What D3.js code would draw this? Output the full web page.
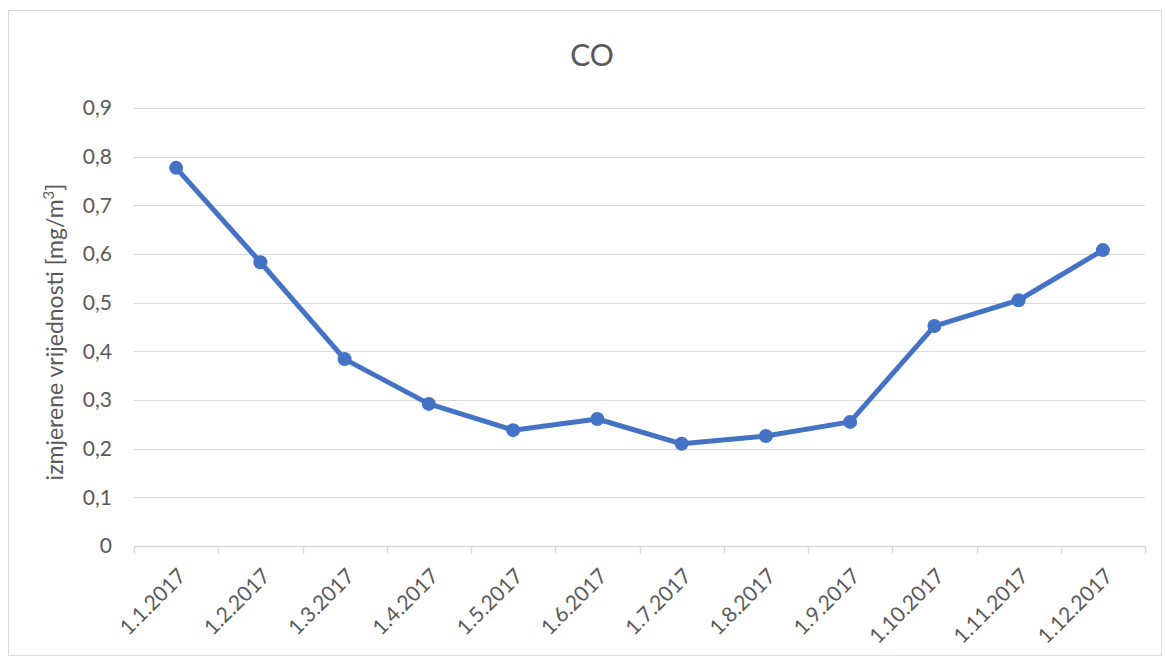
<!DOCTYPE html>
<html>
<head>
<meta charset="utf-8">
<script src="https://cdn.jsdelivr.net/npm/d3@7"></script>
<style>
  body { margin: 0; background: #fff; }
  svg text { font-family: Lato, "Open Sans", sans-serif; fill: #595959; }
</style>
</head>
<body>
<svg id="chart" width="1165" height="661"></svg>
<script>
// months of 2017, measured CO values
var months = ['1.1.2017', '1.2.2017', '1.3.2017', '1.4.2017', '1.5.2017', '1.6.2017',
  '1.7.2017', '1.8.2017', '1.9.2017', '1.10.2017', '1.11.2017', '1.12.2017'];
var coValues = [0.777, 0.583, 0.384, 0.292, 0.238, 0.261, 0.21, 0.226, 0.255, 0.452, 0.505, 0.608];
var yTicks = [0, 0.1, 0.2, 0.3, 0.4, 0.5, 0.6, 0.7, 0.8, 0.9];

var W = 1165, H = 661;
var m = { left: 134, right: 20, top: 108, bottom: 115 };
var svg = d3.select('#chart');

// outer chart border
svg.append('rect')
  .attr('x', 8.5).attr('y', 10.5)
  .attr('width', W - 12).attr('height', H - 16)
  .style('fill', 'none').style('stroke', '#d9d9d9');

var x = d3.scaleBand()
  .domain(months)
  .range([m.left, W - m.right]);
var y = d3.scaleLinear()
  .domain([0, 0.9])
  .range([H - m.bottom, m.top]);

// grid lines
svg.append('g').selectAll('line')
  .data(yTicks.slice(1))
  .enter().append('line')
  .attr('x1', m.left).attr('x2', W - m.right)
  .attr('y1', function(d) { return Math.round(y(d)) + 0.5; })
  .attr('y2', function(d) { return Math.round(y(d)) + 0.5; })
  .style('stroke', '#d9d9d9').style('stroke-width', 1);

// y tick labels
svg.append('g').selectAll('text')
  .data(yTicks)
  .enter().append('text')
  .attr('x', m.left - 22)
  .attr('y', function(d) { return y(d); })
  .attr('dy', '0.35em')
  .attr('text-anchor', 'end')
  .style('font-size', '21px')
  .text(function(d) { return d3.format('.1f')(d).replace('.', ',').replace(/^0,0$/, '0'); });

// x axis
var xAxis = svg.append('g')
  .attr('transform', 'translate(0,' + (Math.round(y(0)) + 0.5) + ')');
xAxis.append('line')
  .attr('x1', m.left).attr('x2', W - m.right)
  .style('stroke', '#d9d9d9').style('stroke-width', 1.5);
var bounds = months.map(function(d) { return x(d); }).concat([W - m.right]);
xAxis.selectAll('.tick')
  .data(bounds)
  .enter().append('line')
  .attr('x1', function(d) { return Math.round(d) + 0.5; })
  .attr('x2', function(d) { return Math.round(d) + 0.5; })
  .attr('y1', 0).attr('y2', 7)
  .style('stroke', '#d9d9d9').style('stroke-width', 1.5);
xAxis.selectAll('.lbl')
  .data(months)
  .enter().append('text')
  .attr('transform', function(d) {
    return 'translate(' + (x(d) + x.bandwidth() / 2 + 11) + ',31) rotate(-45)';
  })
  .attr('text-anchor', 'end')
  .style('font-size', '21px')
  .text(function(d) { return d; });

// title
svg.append('text')
  .attr('x', 592).attr('y', 66)
  .attr('text-anchor', 'middle')
  .style('font-size', '30px')
  .text('CO');

// y axis title
svg.append('text')
  .attr('transform', 'translate(63,' + ((m.top + H - m.bottom) / 2 + 5) + ') rotate(-90)')
  .attr('text-anchor', 'middle')
  .style('font-size', '23px')
  .html('izmjerene vrijednosti [mg/m<tspan dy="-9" style="font-size:15px">3</tspan><tspan dy="9">]</tspan>');

// line + markers
var line = d3.line()
  .x(function(d, i) { return x(months[i]) + x.bandwidth() / 2; })
  .y(function(d) { return y(d); });
svg.append('path')
  .datum(coValues)
  .attr('d', line)
  .style('fill', 'none')
  .style('stroke', '#4472c4')
  .style('stroke-width', 5)
  .style('stroke-linejoin', 'round');
svg.append('g').selectAll('circle')
  .data(coValues)
  .enter().append('circle')
  .attr('cx', function(d, i) { return x(months[i]) + x.bandwidth() / 2; })
  .attr('cy', function(d) { return y(d); })
  .attr('r', 7)
  .style('fill', '#4472c4');
</script>
</body>
</html>
